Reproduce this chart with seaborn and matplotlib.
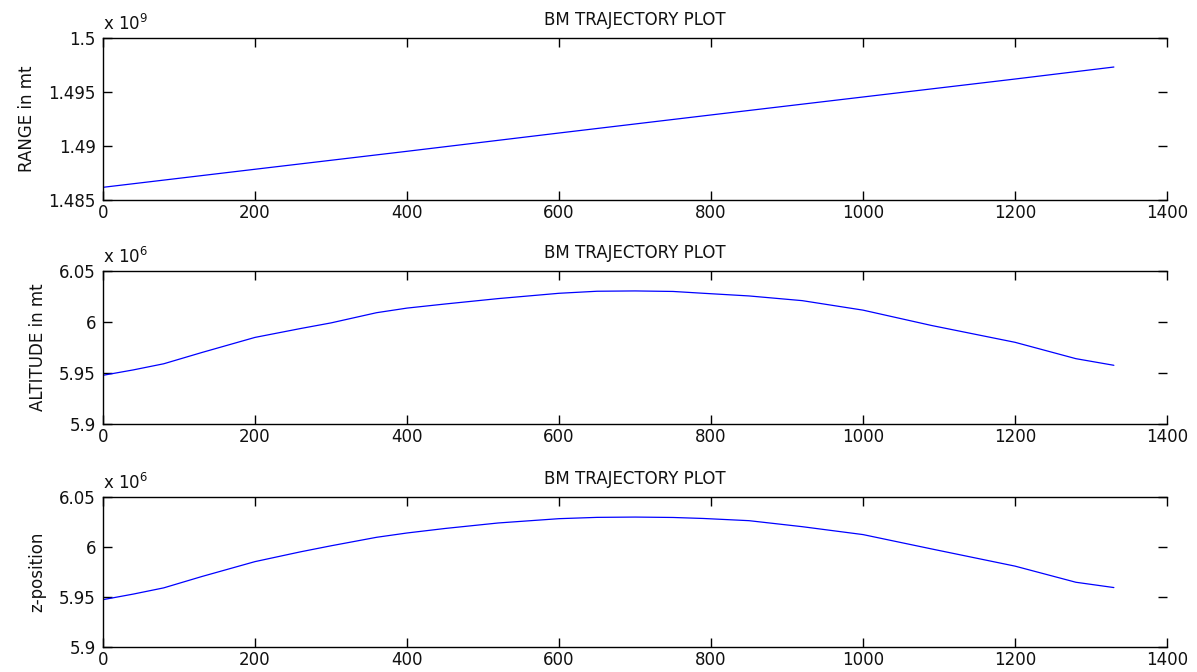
import matplotlib
matplotlib.use("Agg")
import matplotlib.pyplot as plt
from matplotlib.ticker import FixedLocator, FuncFormatter
import seaborn as sns
import pandas as pd

# ---- data ----
range_x = [0, 200, 400, 600, 800, 1000, 1200, 1330]
range_vals = [1.48617, 1.48784, 1.48950, 1.49119, 1.49286, 1.49452, 1.49618, 1.49729]  # x 1e9
range_scale = 1e9

traj_x = [0, 40, 80, 130, 200, 260, 300, 360, 400, 450, 520, 600, 650, 700,
          750, 790, 850, 920, 1000, 1090, 1200, 1280, 1330]
alt_vals = [5.9477, 5.9530, 5.9590, 5.9700, 5.9848, 5.9935, 5.9990, 6.0090, 6.0135,
            6.0175, 6.0228, 6.0280, 6.0300, 6.0303, 6.0298, 6.0280, 6.0254, 6.0208,
            6.0115, 5.9965, 5.9800, 5.9640, 5.9575]  # x 1e6
z_vals = [5.9474, 5.9530, 5.9592, 5.9705, 5.9854, 5.9952, 6.0012, 6.0097, 6.0140,
          6.0185, 6.0240, 6.0283, 6.0296, 6.0299, 6.0295, 6.0285, 6.0263, 6.0203,
          6.0124, 5.9981, 5.9809, 5.9648, 5.9595]  # x 1e6
traj_scale = 1e6

x_ticks = [0, 200, 400, 600, 800, 1000, 1200, 1400]
range_ticks = [1.485, 1.49, 1.495, 1.5]
alt_ticks = [5.9, 5.95, 6.0, 6.05]

title_text = "BM TRAJECTORY PLOT"
ylabels = ["RANGE in mt", "ALTITUDE in mt", "z-position"]

# ---- styling ----
sns.set_theme(style="white")
plt.rcParams["font.family"] = ["DejaVu Sans"]
plt.rcParams["mathtext.fontset"] = "dejavusans"

fig = plt.figure(figsize=(11.97, 6.72), dpi=100)
positions = [
    [0.086, 0.7024, 0.889, 0.2415],
    [0.086, 0.369, 0.889, 0.228],
    [0.086, 0.037, 0.889, 0.2235],
]

panels = [
    (range_x, range_vals, range_scale, range_ticks, 9),
    (traj_x, alt_vals, traj_scale, alt_ticks, 6),
    (traj_x, z_vals, traj_scale, alt_ticks, 6),
]

fs = 12
txt = "#111111"
for i, (pos, (xs, vals, scale, yt, exp)) in enumerate(zip(positions, panels)):
    ax = fig.add_axes(pos)
    df = pd.DataFrame({"t": xs, "v": [v * scale for v in vals]})
    sns.lineplot(data=df, x="t", y="v", ax=ax, color="#0000ff", linewidth=0.9,
                 estimator=None, sort=False)
    ax.set_xlim(x_ticks[0], x_ticks[-1])
    ax.set_ylim(yt[0] * scale, yt[-1] * scale)
    ax.xaxis.set_major_locator(FixedLocator(x_ticks))
    ax.yaxis.set_major_locator(FixedLocator([t * scale for t in yt]))
    ax.yaxis.set_major_formatter(FuncFormatter(lambda v, p, s=scale: f"{v / s:g}"))
    ax.yaxis.get_offset_text().set_visible(False)
    ax.set_xlabel("")
    ax.set_ylabel(ylabels[i], fontsize=fs, labelpad=9, color=txt)
    ax.tick_params(axis="both", which="major", direction="in", length=6.5, width=1,
                   color="black", labelsize=fs, labelcolor=txt,
                   top=True, right=True, bottom=True, left=True)
    ax.tick_params(axis="y", pad=5)
    ax.tick_params(axis="x", pad=3)
    for side in ["left", "top", "bottom"]:
        ax.spines[side].set_visible(True)
        ax.spines[side].set_color("black")
        ax.spines[side].set_linewidth(1.0)
    ax.spines["right"].set_visible(False)
    ax.set_title(title_text, fontsize=fs, pad=9.5, color=txt)
    ax.text(0.0, 1.05, rf"x 10$^{{{exp}}}$", transform=ax.transAxes,
            ha="left", va="baseline", fontsize=fs, color=txt)
    ax.grid(False)

fig.savefig("out.png", dpi=100)
